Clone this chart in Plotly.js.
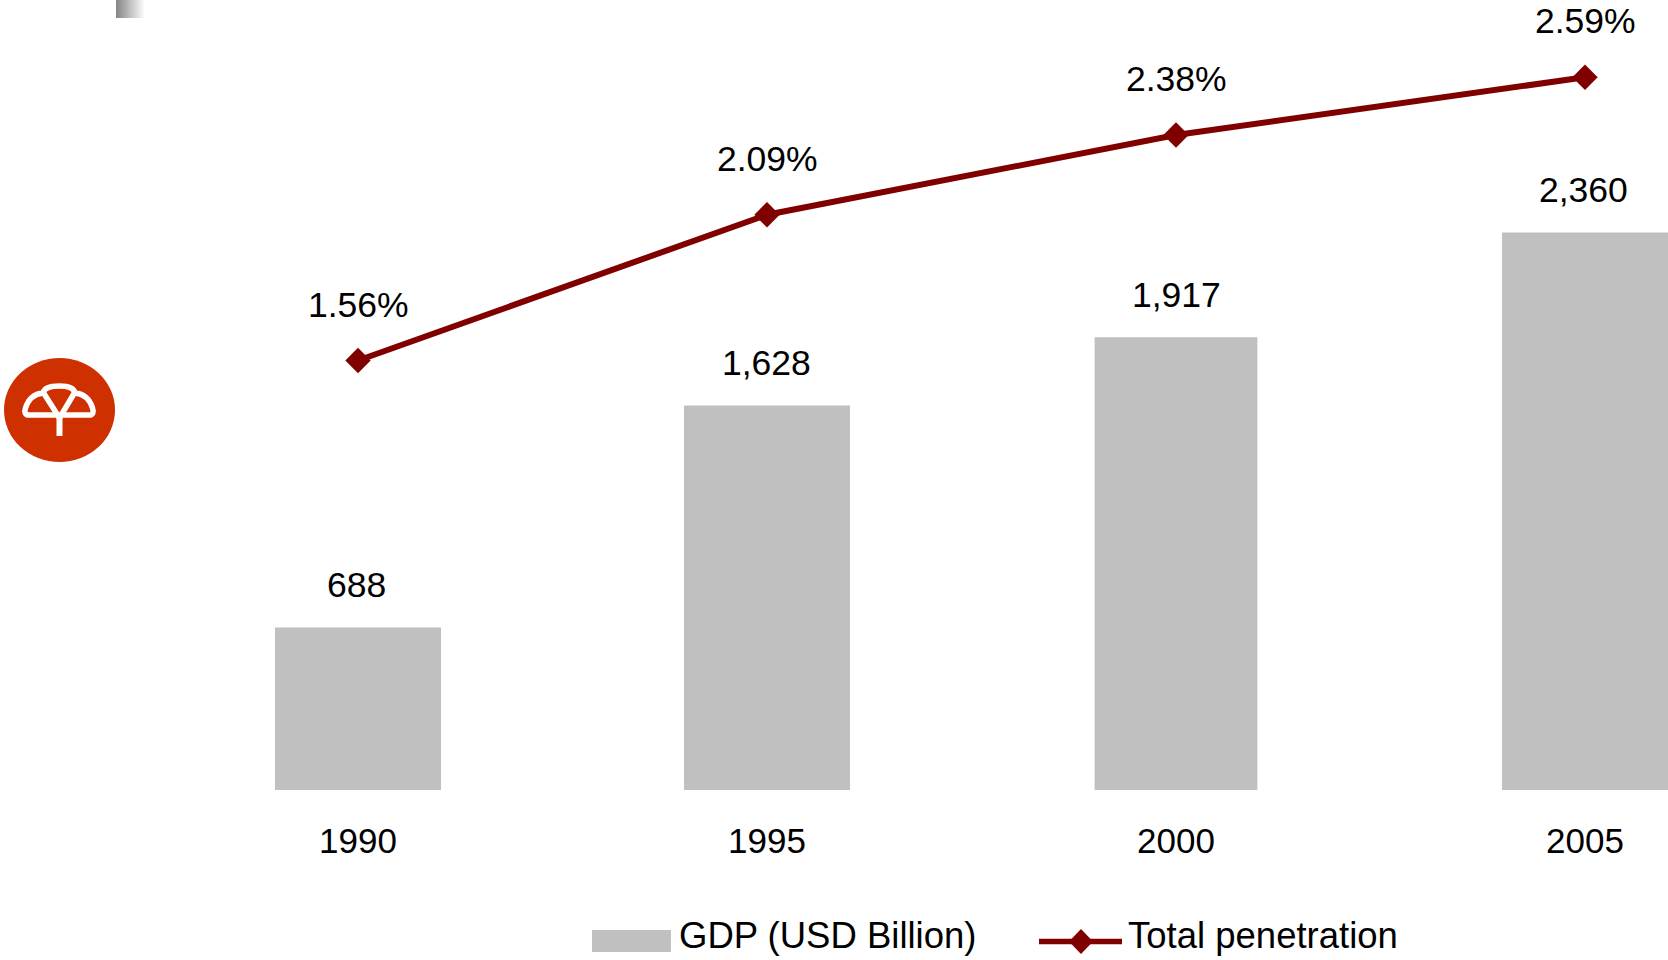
<!DOCTYPE html>
<html>
<head>
<meta charset="utf-8">
<script src="https://cdn.plot.ly/plotly-3.0.1.min.js"></script>
<style>html,body{margin:0;padding:0;background:#fff}#chart{width:1668px;height:960px}</style>
</head>
<body>
<div id="chart"></div>
<script>
const years = ['1990', '1995', '2000', '2005'];
const gdp = [688, 1628, 1917, 2360];
const penetration = [1.56, 2.09, 2.38, 2.59];
const gdpLabels = ['688', '1,628', '1,917', '2,360'];
const penetrationLabels = ['1.56%', '2.09%', '2.38%', '2.59%'];
const gdpName = 'GDP (USD Billion)';
const penetrationName = 'Total penetration';

const W = 1668, H = 960, BASE = 790;
const GREY = '#C0C0C0', RED = '#800000', INK = '#000000';
const FONT = '"Liberation Sans", Arial, sans-serif';
const px = x => x / W;
const py = y => (BASE - y) / BASE;

// Converts a path written in page pixels to paper coordinates.
function pagePath(segments) {
  return segments.map(s => s[0] + s.slice(1).map((v, i) =>
    (i % 2 === 0 ? px(v) : py(v)).toFixed(5)).join(',')).join(' ');
}
function paperShape(o) { return Object.assign({xref: 'paper', yref: 'paper', layer: 'above'}, o); }

const shapes = [];

// small gradient fragment top-left
for (let i = 0; i < 15; i++) {
  const g = Math.round(136 + (255 - 136) * i / 14);
  shapes.push(paperShape({type: 'rect', x0: px(116 + i * 2), x1: px(118 + i * 2), y0: py(0), y1: py(18),
    fillcolor: `rgb(${g},${g},${g})`, line: {width: 0}}));
}

// logo
shapes.push(paperShape({type: 'circle', x0: px(4), x1: px(115), y0: py(358), y1: py(462),
  fillcolor: '#CF3000', line: {width: 0}}));
const white = {color: '#FFFFFF', width: 5.5};
shapes.push(paperShape({type: 'path', line: white, fillcolor: 'rgba(0,0,0,0)', path: pagePath([
  ['M', 29, 415], ['C', 25, 415, 24, 412, 25.5, 408], ['C', 28, 400, 33, 394, 43, 393],
  ['C', 44, 388, 50, 386, 59.5, 386], ['C', 69, 386, 74, 388, 75, 393],
  ['C', 85, 394, 90, 400, 92.5, 408], ['C', 94, 412, 93, 415, 89, 415], ['Z']
])}));
shapes.push(paperShape({type: 'path', line: white, fillcolor: 'rgba(0,0,0,0)', path: pagePath([
  ['M', 43, 392], ['L', 59.5, 418], ['L', 75, 392]
])}));
shapes.push(paperShape({type: 'path', line: {color: '#FFFFFF', width: 6}, path: pagePath([
  ['M', 59.5, 414], ['L', 59.5, 436]
])}));

// legend keys
shapes.push(paperShape({type: 'rect', x0: px(592), x1: px(671), y0: py(930), y1: py(952),
  fillcolor: GREY, line: {width: 0}}));
shapes.push(paperShape({type: 'line', x0: px(1039), x1: px(1122), y0: py(941.5), y1: py(941.5),
  line: {color: RED, width: 5.5}}));
shapes.push(paperShape({type: 'path', fillcolor: RED, line: {width: 0}, path: pagePath([
  ['M', 1081, 929], ['L', 1093, 941.5], ['L', 1081, 954], ['L', 1069, 941.5], ['Z']
])}));

const annotations = [];
const barShift = [-1.5, -1, 0, -2];
years.forEach((yr, i) => {
  annotations.push({x: i, y: gdp[i], xref: 'x', yref: 'y', text: gdpLabels[i], showarrow: false,
    yshift: 42.5, xshift: barShift[i], font: {family: FONT, size: 35.5, color: INK}});
  annotations.push({x: i, y: penetration[i], xref: 'x', yref: 'y2', text: penetrationLabels[i], showarrow: false,
    yshift: 56, xshift: 0, font: {family: FONT, size: 35.5, color: INK}});
});
annotations.push({xref: 'paper', yref: 'paper', x: px(677), y: py(935), xanchor: 'left', yanchor: 'middle', text: gdpName,
  showarrow: false, font: {family: FONT, size: 36.5, color: INK}});
annotations.push({xref: 'paper', yref: 'paper', x: px(1126), y: py(935), xanchor: 'left', yanchor: 'middle', text: penetrationName,
  showarrow: false, font: {family: FONT, size: 36.5, color: INK}});

const traces = [
  {type: 'bar', x: years, y: gdp, name: gdpName, width: [0.406, 0.406, 0.398, 0.406],
   marker: {color: GREY, line: {width: 0}}, hoverinfo: 'x+y'},
  {type: 'scatter', mode: 'lines+markers', x: years, y: penetration, name: penetrationName, yaxis: 'y2',
   line: {color: RED, width: 6},
   marker: {symbol: 'diamond', size: 19.5, color: RED}, cliponaxis: false}
];

const layout = {
  width: W, height: H,
  margin: {l: 0, r: 0, t: 0, b: H - BASE, pad: 0},
  paper_bgcolor: '#FFFFFF', plot_bgcolor: '#FFFFFF',
  showlegend: false,
  xaxis: {type: 'category', categoryorder: 'array', categoryarray: years,
    range: [-358 / 409, (W - 358) / 409], showgrid: false, zeroline: false, showline: false,
    ticks: 'outside', ticklen: 20, tickcolor: 'rgba(0,0,0,0)',
    tickfont: {family: FONT, size: 35, color: INK}, fixedrange: true},
  yaxis: {range: [0, BASE / 0.2362], visible: false, fixedrange: true},
  yaxis2: {range: [1.56 - (BASE - 360.5) / 275, 1.56 + 360.5 / 275], overlaying: 'y', side: 'right',
    visible: false, fixedrange: true},
  shapes, annotations
};
Plotly.newPlot('chart', traces, layout, {displayModeBar: false, responsive: false});
</script>
</body>
</html>
